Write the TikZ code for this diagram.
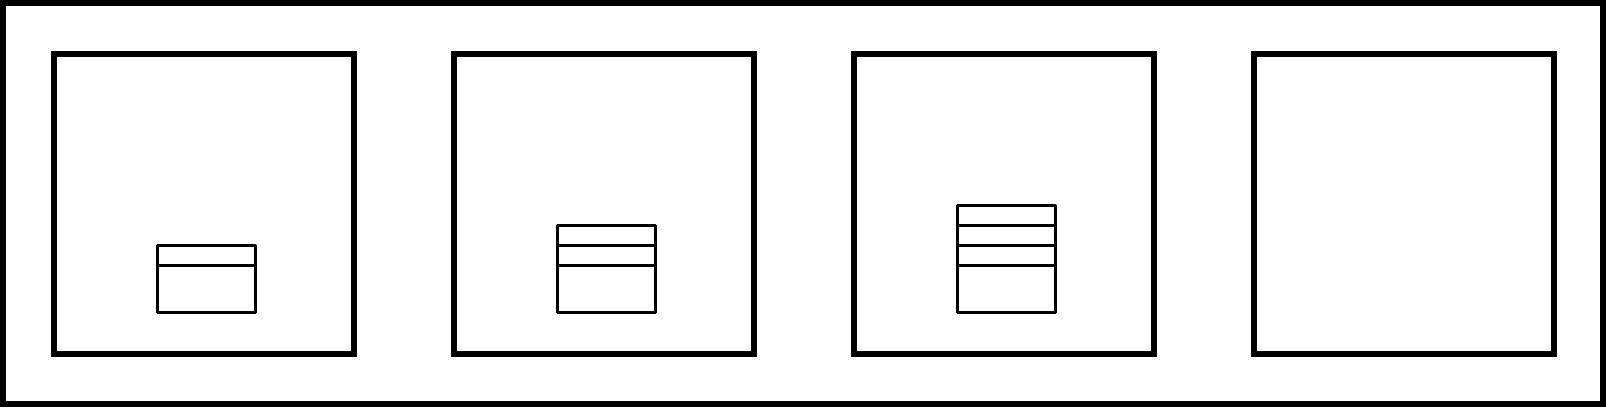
\documentclass[tikz,border=0pt]{standalone}
\begin{document}
\begin{tikzpicture}[x=0.5pt,y=-0.5pt,
  frame/.style={draw=black,line width=3pt},
  panel/.style={draw=black,line width=3pt,minimum size=150pt,inner sep=0pt,outer sep=0pt},
  slat/.style={draw=black,line width=1.5pt,line join=round,line cap=round}]
\useasboundingbox (0,0) rectangle (1606,407);
\draw[frame] (3,3) rectangle (1603,404);
\foreach \i in {1,2,3,4}{
  \node[panel] (p\i) at ({204+400*(\i-1)},204) {};
}
% stacks
\foreach \i/\n in {1/1,2/2,3/3}{
  \pgfmathsetmacro{\xl}{157.5+400*(\i-1)}
  \pgfmathsetmacro{\xr}{255.5+400*(\i-1)}
  \pgfmathsetmacro{\yt}{265-20*\n}
  \draw[slat] (\xl,\yt) rectangle (\xr,312.5);
  \foreach \k in {1,...,\n}{
    \draw[slat] (\xl,{265-20*(\k-1)}) -- (\xr,{265-20*(\k-1)});
  }
}
\end{tikzpicture}
\end{document}
